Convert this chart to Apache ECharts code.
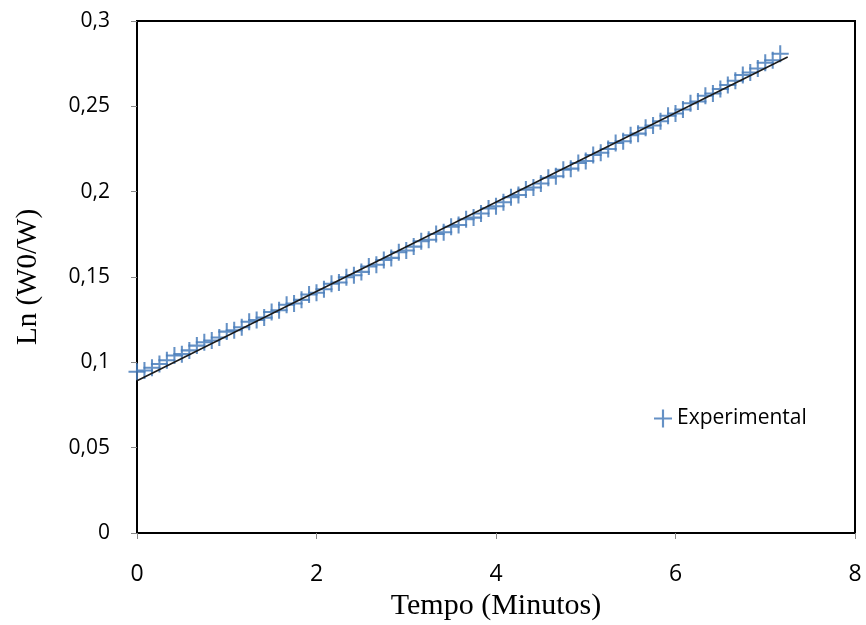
<!DOCTYPE html>
<html>
<head>
<meta charset="utf-8">
<script src="https://cdn.jsdelivr.net/npm/echarts@6/dist/echarts.min.js"></script>
<style>
  html, body { margin: 0; padding: 0; background: #fff; }
  #chart { width: 866px; height: 625px; }
</style>
</head>
<body>
<div id="chart"></div>
<script>
// time in minutes (one reading every 5 s)
const tempo = [
  0, 0.083, 0.167, 0.25, 0.333, 0.417, 0.5, 0.583, 0.667, 0.75,
  0.833, 0.917, 1.0, 1.083, 1.167, 1.25, 1.333, 1.417, 1.5, 1.583,
  1.667, 1.75, 1.833, 1.917, 2.0, 2.083, 2.167, 2.25, 2.333, 2.417,
  2.5, 2.583, 2.667, 2.75, 2.833, 2.917, 3.0, 3.083, 3.167, 3.25,
  3.333, 3.417, 3.5, 3.583, 3.667, 3.75, 3.833, 3.917, 4.0, 4.083,
  4.167, 4.25, 4.333, 4.417, 4.5, 4.583, 4.667, 4.75, 4.833, 4.917,
  5.0, 5.083, 5.167, 5.25, 5.333, 5.417, 5.5, 5.583, 5.667, 5.75,
  5.833, 5.917, 6.0, 6.083, 6.167, 6.25, 6.333, 6.417, 6.5, 6.583,
  6.667, 6.75, 6.833, 6.917, 7.0, 7.083, 7.167
]
const lnW0W = [
  0.0945, 0.0952, 0.0968, 0.0990, 0.1012, 0.1040, 0.1048, 0.1070, 0.1098, 0.1118,
  0.1128, 0.1145, 0.1180, 0.1188, 0.1205, 0.1238, 0.1248, 0.1262, 0.1295, 0.1305,
  0.1338, 0.1345, 0.1366, 0.1398, 0.1408, 0.1428, 0.1460, 0.1468, 0.1498, 0.1510,
  0.1530, 0.1562, 0.1572, 0.1600, 0.1612, 0.1645, 0.1655, 0.1678, 0.1710, 0.1718,
  0.1752, 0.1762, 0.1795, 0.1805, 0.1838, 0.1848, 0.1872, 0.1902, 0.1915, 0.1938,
  0.1968, 0.1980, 0.2012, 0.2025, 0.2048, 0.2082, 0.2090, 0.2128, 0.2135, 0.2168,
  0.2180, 0.2215, 0.2228, 0.2250, 0.2285, 0.2295, 0.2330, 0.2340, 0.2375, 0.2388,
  0.2412, 0.2445, 0.2458, 0.2482, 0.2518, 0.2528, 0.2562, 0.2575, 0.2602, 0.2625,
  0.2650, 0.2684, 0.2698, 0.2722, 0.2755, 0.2770, 0.2808
]
// linear fit drawn over the readings
const ajusteX = [0, 7.25]
const ajusteY = [0.0892, 0.2789]

const xTicks = { min: 0, max: 8, interval: 2 }
const yTicks = { min: 0, max: 0.3, interval: 0.05 }

const crossPath = 'path://M4.4,0 h1.2 v4.4 h4.4 v1.2 h-4.4 v4.4 h-1.2 v-4.4 h-4.4 v-1.2 h4.4 z'
const blue = '#4a7ebb'

const chart = echarts.init(document.getElementById('chart'), null, { renderer: 'canvas' })

const option = {
  animation: false,
  backgroundColor: '#fff',
  grid: {
    left: 137, right: 11, top: 21, bottom: 92,
    outerBoundsMode: 'none',
    containLabel: false,
    show: true, borderColor: '#000', borderWidth: 2,
  },
  legend: {
    left: 649, top: 403,
    data: [{ name: 'Experimental', icon: crossPath }],
    itemWidth: 18, itemHeight: 18,
    textStyle: { fontFamily: 'Open Sans', fontSize: 21, color: '#000' },
  },
  xAxis: {
    type: 'value',
    ...xTicks,
    name: 'Tempo (Minutos)',
    nameLocation: 'middle',
    nameGap: 58,
    nameTextStyle: { fontFamily: 'Liberation Serif', fontSize: 30, color: '#000' },
    axisLine: { show: true, lineStyle: { color: '#000', width: 2 } },
    axisTick: { show: true, inside: false, length: 6, lineStyle: { color: '#888' } },
    axisLabel: {
      margin: 30,
      fontFamily: 'Open Sans',
      fontSize: 23, color: '#000',
    },
    splitLine: { show: false },
  },
  yAxis: {
    type: 'value',
    ...yTicks,
    name: 'Ln (W0/W)',
    nameLocation: 'middle',
    nameGap: 94,
    nameTextStyle: { fontFamily: 'Liberation Serif', fontSize: 29, color: '#000' },
    axisLine: { show: true, lineStyle: { color: '#000', width: 2 } },
    axisTick: { show: true, inside: false, length: 6, lineStyle: { color: '#888' } },
    axisLabel: {
      margin: 27,
      fontFamily: 'Open Sans',
      fontSize: 21, color: '#000',
      formatter: v => String(+v.toFixed(2)).replace('.', ','),
    },
    splitLine: { show: false },
  },
  series: [
    {
      name: 'Experimental',
      type: 'scatter',
      symbol: crossPath,
      symbolSize: 17,
      itemStyle: { color: blue, opacity: 0.85 },
      data: tempo.map((t, i) => [t, lnW0W[i]]),
      z: 2,
    },
    {
      name: 'Ajuste',
      type: 'line',
      data: ajusteX.map((t, i) => [t, ajusteY[i]]),
      showSymbol: false,
      symbol: 'none',
      lineStyle: { color: '#1a1a1a', width: 1.5 },
      z: 3,
    },
  ],
}

chart.setOption(option)
</script>
</body>
</html>
